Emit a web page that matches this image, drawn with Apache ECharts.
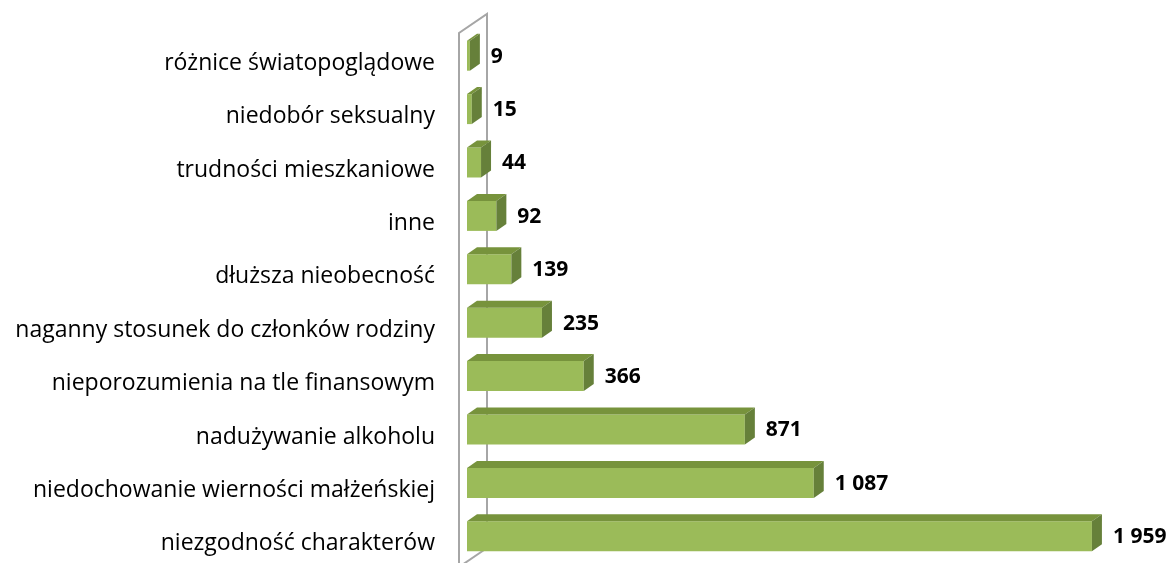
<!DOCTYPE html>
<html>
<head>
<meta charset="utf-8">
<script src="https://cdn.jsdelivr.net/npm/echarts@6/dist/echarts.min.js"></script>
<style>html,body{margin:0;padding:0;background:#fff}#c{width:1174px;height:563px}</style>
</head>
<body>
<div id="c"></div>
<script>
// bottom -> top
var categories = [
  'niezgodność charakterów',
  'niedochowanie wierności małżeńskiej',
  'nadużywanie alkoholu',
  'nieporozumienia na tle finansowym',
  'naganny stosunek do członków rodziny',
  'dłuższa nieobecność',
  'inne',
  'trudności mieszkaniowe',
  'niedobór seksualny',
  'różnice światopoglądowe'
];
var values = [1959, 1087, 871, 366, 235, 139, 92, 44, 15, 9];

var DX = 10, DY = -7, H = 30;
var FRONT = '#9BBB59', TOP = '#77933C', SIDE = '#66803A';

function fmt(v){ return String(v).replace(/\B(?=(\d{3})+(?!\d))/g, ' '); }

var chart = echarts.init(document.getElementById('c'));
chart.setOption({
  animation: false,
  grid: { left: 467, right: 69, top: 29, bottom: 0 },
  xAxis: { type: 'value', min: 0, max: 2000, show: false },
  yAxis: {
    type: 'category', data: categories,
    axisLine: { show: false }, axisTick: { show: false },
    axisLabel: { fontFamily: 'Open Sans', fontSize: 23, color: '#000', margin: 32, verticalAlign: 'top', lineHeight: 15 }
  },
  series: [
    {
      type: 'custom', z: 1, data: [0], silent: true,
      renderItem: function (params, api) {
        var cs = params.coordSys;
        var fx = cs.x - 8, bx = cs.x + 20;
        var st = { stroke: '#A6A6A6', lineWidth: 2, fill: null };
        return { type: 'group', children: [
          { type: 'polyline', shape: { points: [[bx, 548], [bx, 14], [fx, 33], [fx, 570]] }, style: st },
          { type: 'line', shape: { x1: fx, y1: 567, x2: bx, y2: 548 }, style: st }
        ]};
      }
    },
    {
      type: 'custom', z: 2, silent: true,
      data: values.map(function (v, i) { return [v, i]; }),
      renderItem: function (params, api) {
        var v = api.value(0), c = api.value(1);
        var p0 = api.coord([0, c]), p1 = api.coord([v, c]);
        var x0 = p0[0], x1 = p1[0], yc = p0[1];
        var yt = yc - H / 2, yb = yc + H / 2;
        return { type: 'group', children: [
          { type: 'rect', shape: { x: x0, y: yt, width: x1 - x0, height: H }, style: { fill: FRONT } },
          { type: 'polygon', shape: { points: [[x0, yt], [x1, yt], [x1 + DX, yt + DY], [x0 + DX, yt + DY]] }, style: { fill: TOP } },
          { type: 'polygon', shape: { points: [[x1, yt], [x1 + DX, yt + DY], [x1 + DX, yb + DY], [x1, yb]] }, style: { fill: SIDE } },
          { type: 'text', x: x1 + DX + 11, y: yc + 1, style: { text: fmt(v), fontFamily: 'Open Sans', fontWeight: 'bold', fontSize: 21, fill: '#000', align: 'left', verticalAlign: 'middle' } }
        ]};
      }
    }
  ]
});
</script>
</body>
</html>
